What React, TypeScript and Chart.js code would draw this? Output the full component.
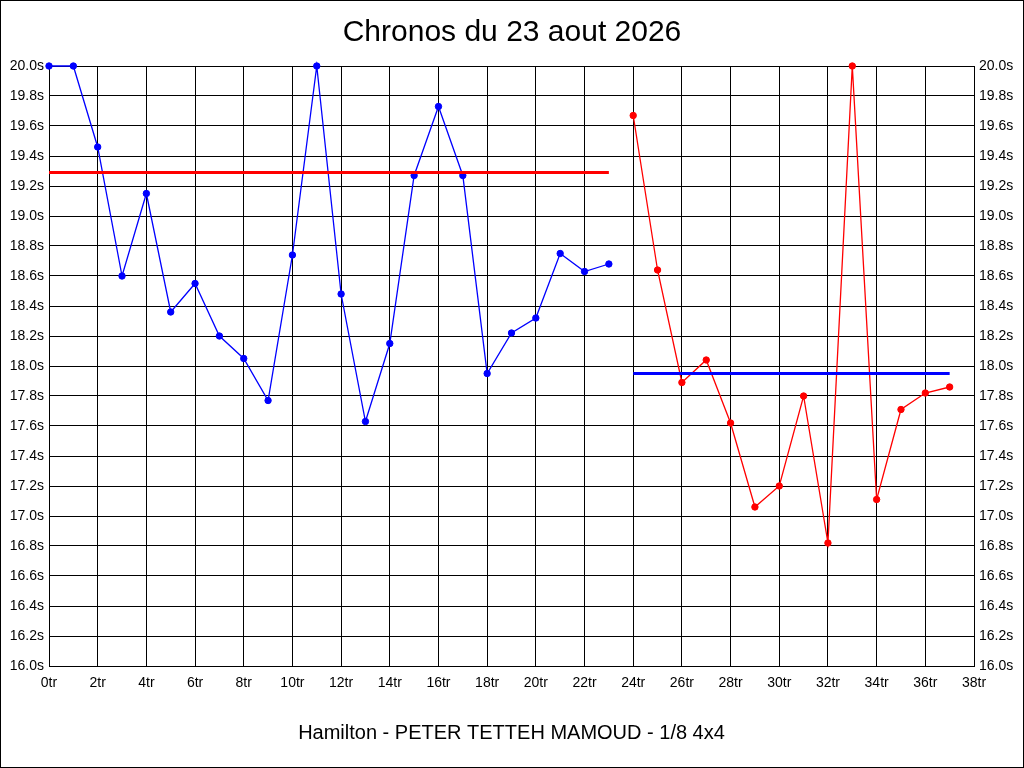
import { useEffect, useRef } from "react"
import { Chart, registerables } from "chart.js"

Chart.register(...registerables)

// lap times
const blueTimes = [
  20.0, 20.0, 19.46, 18.6, 19.15, 18.36, 18.55, 18.2, 18.05, 17.77, 18.74, 20.0,
  18.48, 17.63, 18.15, 19.27, 19.73, 19.27, 17.95, 18.22, 18.32, 18.75, 18.63, 18.68,
]
const redStartLap = 24
const redTimes = [
  19.67, 18.64, 17.89, 18.04, 17.62, 17.06, 17.2, 17.8, 16.82, 20.0, 17.11, 17.71, 17.82, 17.86,
]
// horizontal reference lines: [fromLap, toLap, value]
const redLine = [0, 23, 19.29]
const blueLine = [24, 37, 17.95]

const titleText = "Chronos du 23 aout 2026"
const footerText = "Hamilton - PETER TETTEH MAMOUD - 1/8 4x4"

const yMin = 16
const yMax = 20
const xMax = 38

const FONT = '"Liberation Sans", Arial, sans-serif'

const frame = {
  id: "frame",
  beforeDraw(chart: Chart) {
    const { ctx, width, height } = chart
    ctx.save()
    ctx.fillStyle = "#fff"
    ctx.fillRect(0, 0, width, height)
    ctx.restore()
  },
  afterDraw(chart: Chart) {
    const { ctx, width, height } = chart
    ctx.save()
    ctx.strokeStyle = "#000"
    ctx.lineWidth = 1
    ctx.strokeRect(0.5, 0.5, width - 1, height - 1)
    ctx.restore()
  },
}

export default function App() {
  const canvasRef = useRef<HTMLCanvasElement>(null)
  const chartRef = useRef<Chart | null>(null)

  useEffect(() => {
    if (!canvasRef.current) return
    if (chartRef.current) chartRef.current.destroy()

    const yTick = (v: number | string) => `${Number(v).toFixed(1)}s`

    chartRef.current = new Chart(canvasRef.current, {
      type: "line",
      data: {
        datasets: [
          {
            label: "ref rouge",
            data: [
              { x: redLine[0], y: redLine[2] },
              { x: redLine[1], y: redLine[2] },
            ],
            borderColor: "#ff0000",
            borderWidth: 3,
            pointRadius: 0,
            clip: false,
          },
          {
            label: "ref bleue",
            data: [
              { x: blueLine[0], y: blueLine[2] },
              { x: blueLine[1], y: blueLine[2] },
            ],
            borderColor: "#0000ff",
            borderWidth: 3,
            pointRadius: 0,
            clip: false,
          },
          {
            label: "bleu",
            data: blueTimes.map((t, i) => ({ x: i, y: t })),
            borderColor: "#0000ff",
            backgroundColor: "#0000ff",
            borderWidth: 1.3,
            pointRadius: 3.2,
            pointBorderWidth: 1,
            tension: 0,
            clip: false,
          },
          {
            label: "rouge",
            data: redTimes.map((t, i) => ({ x: redStartLap + i, y: t })),
            borderColor: "#ff0000",
            backgroundColor: "#ff0000",
            borderWidth: 1.3,
            pointRadius: 3.2,
            pointBorderWidth: 1,
            tension: 0,
            clip: false,
          },
        ],
      },
      options: {
        responsive: true,
        maintainAspectRatio: false,
        animation: false,
        layout: { padding: 0 },
        scales: {
          x: {
            type: "linear",
            min: 0,
            max: xMax,
            afterFit: (s) => {
              s.height = 102
            },
            ticks: {
              stepSize: 2,
              color: "#000",
              padding: 9,
              maxRotation: 0,
              autoSkip: false,
              font: { family: FONT, size: 14 },
              callback: (v) => `${v}tr`,
            },
            grid: { color: "#000", lineWidth: 1, drawTicks: false },
            border: { color: "#000", width: 1 },
            title: {
              display: true,
              text: footerText,
              color: "#000",
              font: { family: FONT, size: 20 },
              padding: { top: 0, bottom: 23 },
            },
          },
          y: {
            position: "left",
            min: yMin,
            max: yMax,
            afterFit: (s) => {
              s.width = 49
            },
            ticks: {
              stepSize: 0.2,
              color: "#000",
              padding: 5,
              autoSkip: false,
              font: { family: FONT, size: 14 },
              callback: yTick,
            },
            grid: { color: "#000", lineWidth: 1, drawTicks: false },
            border: { color: "#000", width: 1 },
          },
          y2: {
            position: "right",
            min: yMin,
            max: yMax,
            afterFit: (s) => {
              s.width = 50
            },
            ticks: {
              stepSize: 0.2,
              color: "#000",
              padding: 5,
              autoSkip: false,
              font: { family: FONT, size: 14 },
              callback: yTick,
            },
            grid: { drawOnChartArea: false, drawTicks: false },
            border: { color: "#000", width: 1 },
          },
        },
        plugins: {
          legend: { display: false },
          tooltip: { enabled: false },
          title: {
            display: true,
            text: titleText,
            color: "#000",
            font: { family: FONT, size: 30, weight: "normal" },
            padding: { top: 15, bottom: 15 },
          },
        },
      },
      plugins: [frame],
    })

    return () => {
      if (chartRef.current) {
        chartRef.current.destroy()
        chartRef.current = null
      }
    }
  }, [])

  return (
    <div style={{ position: "absolute", left: 0, top: 0, width: 1024, height: 768 }}>
      <canvas ref={canvasRef} />
    </div>
  )
}
